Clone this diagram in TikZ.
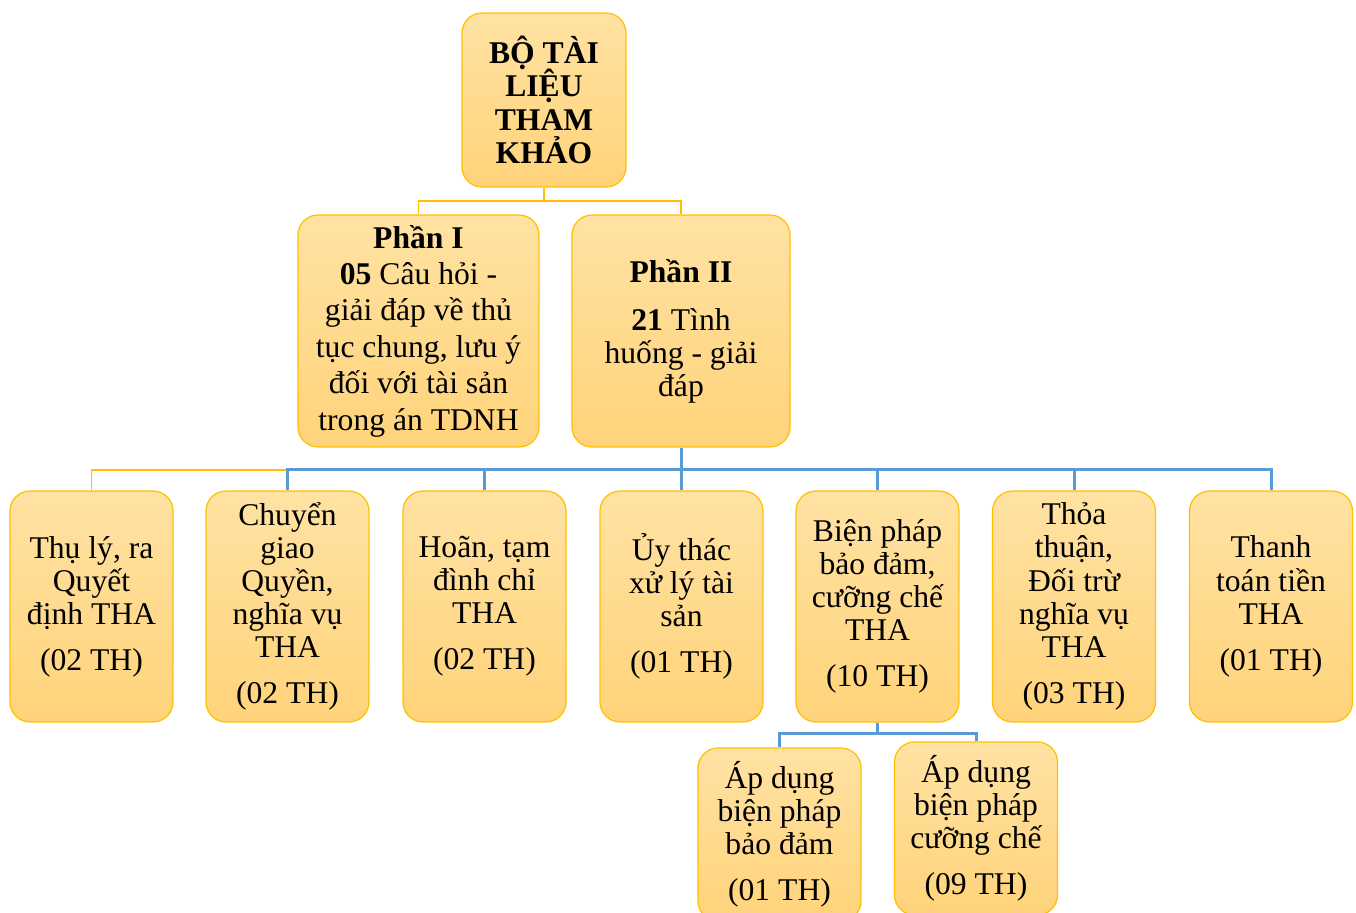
\documentclass[tikz,border=0pt]{standalone}
\usepackage{fontspec}
\setmainfont{Liberation Serif}
\definecolor{boxtop}{RGB}{255,226,163}
\definecolor{boxbot}{RGB}{255,211,122}
\definecolor{boxline}{RGB}{255,192,0}
\definecolor{linkblue}{RGB}{91,155,213}
\setlength{\lineskiplimit}{-20pt}

\begin{document}
\begin{tikzpicture}[x=0.02cm,y=-0.02cm,
  card/.style={draw=boxline,line width=0.7pt,rounded corners=0.4cm,top color=boxtop,bottom color=boxbot,
    align=center,inner sep=0pt,minimum width=3.26cm,minimum height=4.62cm,font=\fontsize{18}{18.8}\selectfont},
  goldlink/.style={draw=boxline,line width=0.7pt},
  bluelink/.style={draw=linkblue,line width=1.7pt}]
  \useasboundingbox (0,0) rectangle (1356,913);
  \node[card,minimum width=3.28cm,minimum height=3.48cm,font=\bfseries\fontsize{18}{18.9}\selectfont] (root) at (544,100) {BỘ TÀI\\ LIỆU\\ THAM\\ KHẢO};
  \node[card,minimum width=4.82cm,minimum height=4.64cm,font=\fontsize{18}{20.7}\selectfont] (part1) at (418.5,331)
    {\textbf{Phần I}\\ \textbf{05} Câu hỏi -\\ giải đáp về thủ\\ tục chung, lưu ý\\ đối với tài sản\\ trong án TDNH};
  \node[card,minimum width=4.36cm,minimum height=4.64cm] (part2) at (681,331)
    {\textbf{Phần II}\\[8.5pt] \textbf{21} Tình\\ huống - giải\\ đáp};
  \node[card] (c1) at (91.5,606.5) {Thụ lý, ra\\ Quyết\\ định THA\\[7.5pt] (02 TH)};
  \node[card] (c2) at (287.5,606.5) {Chuyển\\ giao\\ Quyền,\\ nghĩa vụ\\ THA\\[7.5pt] (02 TH)};
  \node[card] (c3) at (484.5,606.5) {Hoãn, tạm\\ đình chỉ\\ THA\\[7.5pt] (02 TH)};
  \node[card] (c4) at (681.5,606.5) {Ủy thác\\ xử lý tài\\ sản\\[7.5pt] (01 TH)};
  \node[card] (c5) at (877.5,606.5) {Biện pháp\\ bảo đảm,\\ cưỡng chế\\ THA\\[7.5pt] (10 TH)};
  \node[card] (c6) at (1074,606.5) {Thỏa\\ thuận,\\ Đối trừ\\ nghĩa vụ\\ THA\\[7.5pt] (03 TH)};
  \node[card] (c7) at (1271,606.5) {Thanh\\ toán tiền\\ THA\\[7.5pt] (01 TH)};
  \node[card,minimum height=3.46cm] (sub1) at (779.5,834.5) {Áp dụng\\ biện pháp\\ bảo đảm\\[7.5pt] (01 TH)};
  \node[card,minimum height=3.46cm] (sub2) at (976,828.5) {Áp dụng\\ biện pháp\\ cưỡng chế\\[7.5pt] (09 TH)};
  \draw[goldlink] (root.south) -- (root.south |- 0,201) -| (part1.north);
  \draw[goldlink] (root.south |- 0,201) -| (part2.north);
  \draw[goldlink] (c1.north) |- (c2.north |- 0,470);
  \draw[bluelink] (part2.south) -- (part2.south |- 0,469);
  \draw[bluelink] (c2.north) |- (c7.north |- 0,469) -- (c7.north);
  \foreach \n in {c3,c4,c5,c6}
    \draw[bluelink] (\n.north) -- (\n.north |- 0,469);
  \draw[bluelink] (c5.south) -- (c5.south |- 0,733);
  \draw[bluelink] (sub1.north) |- (sub2.north |- 0,733) -- (sub2.north);
\end{tikzpicture}
\end{document}
